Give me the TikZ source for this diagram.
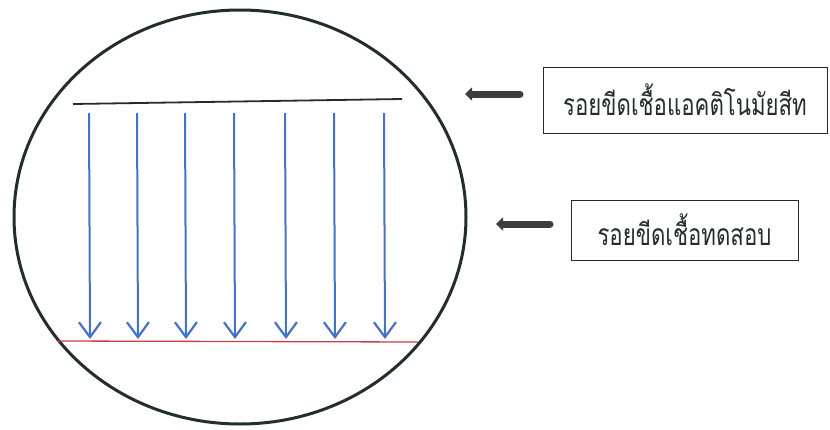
\documentclass[tikz,border=0pt]{standalone}
\usepackage{fontspec}
\newfontfamily\thaifont[Script=Thai,FakeStretch=0.74]{Loma}
\usetikzlibrary{arrows.meta,shapes.geometric}
\definecolor{arrblue}{RGB}{68,114,196}
\definecolor{linered}{RGB}{200,60,80}
\definecolor{darkline}{RGB}{35,45,45}
\definecolor{pointer}{RGB}{60,62,62}
\tikzset{
  labelbox/.style={draw=darkline, line width=0.9pt, inner sep=0pt, font=\thaifont\fontsize{30}{34}\selectfont, text=darkline},
  pointerarrow/.style={draw=pointer, line width=7pt, line cap=round, {Triangle[length=7pt,width=13pt]}-},
  streak/.style={draw=arrblue, line width=2pt, -{Straight Barb[length=15pt,width=22pt,line width=2.2pt]}}
}
\begin{document}
\begin{tikzpicture}[x=1pt,y=-1pt]
\useasboundingbox (0,0) rectangle (830,429);
\node[draw=darkline, line width=3pt, ellipse, minimum width=452pt, minimum height=414pt, inner sep=0pt] (plate) at (240,217) {};
% control streak
\coordinate (ctlL) at (73,104);
\coordinate (ctlR) at (402,99);
\draw[darkline, line width=1.8pt] (ctlL) -- (ctlR);
% test streak
\coordinate (tstL) at (58,341);
\coordinate (tstR) at (418,342);
\draw[linered, line width=1.3pt] (tstL) -- (tstR);
% arrows
\foreach \i/\x in {1/89,2/137,3/185,4/234,5/285,6/334,7/384}{
  \coordinate (s\i) at (\x,113);
  \coordinate (e\i) at (\x+1,339);
  \draw[streak] (s\i) -- (e\i);
}
% labels
\node[labelbox, minimum width=284pt, minimum height=66pt] (lab1) at (685,100) {รอยขีดเชื้อแอคติโนมัยสีท};
\node[labelbox, minimum width=227pt, minimum height=60pt] (lab2) at (684.5,230) {รอยขีดเชื้อทดสอบ};
\coordinate (p1) at (465,94);
\coordinate (q1) at (520,94);
\coordinate (p2) at (496,224);
\coordinate (q2) at (550,224);
\draw[pointerarrow] (p1) -- (q1);
\draw[pointerarrow] (p2) -- (q2);
\end{tikzpicture}
\end{document}
